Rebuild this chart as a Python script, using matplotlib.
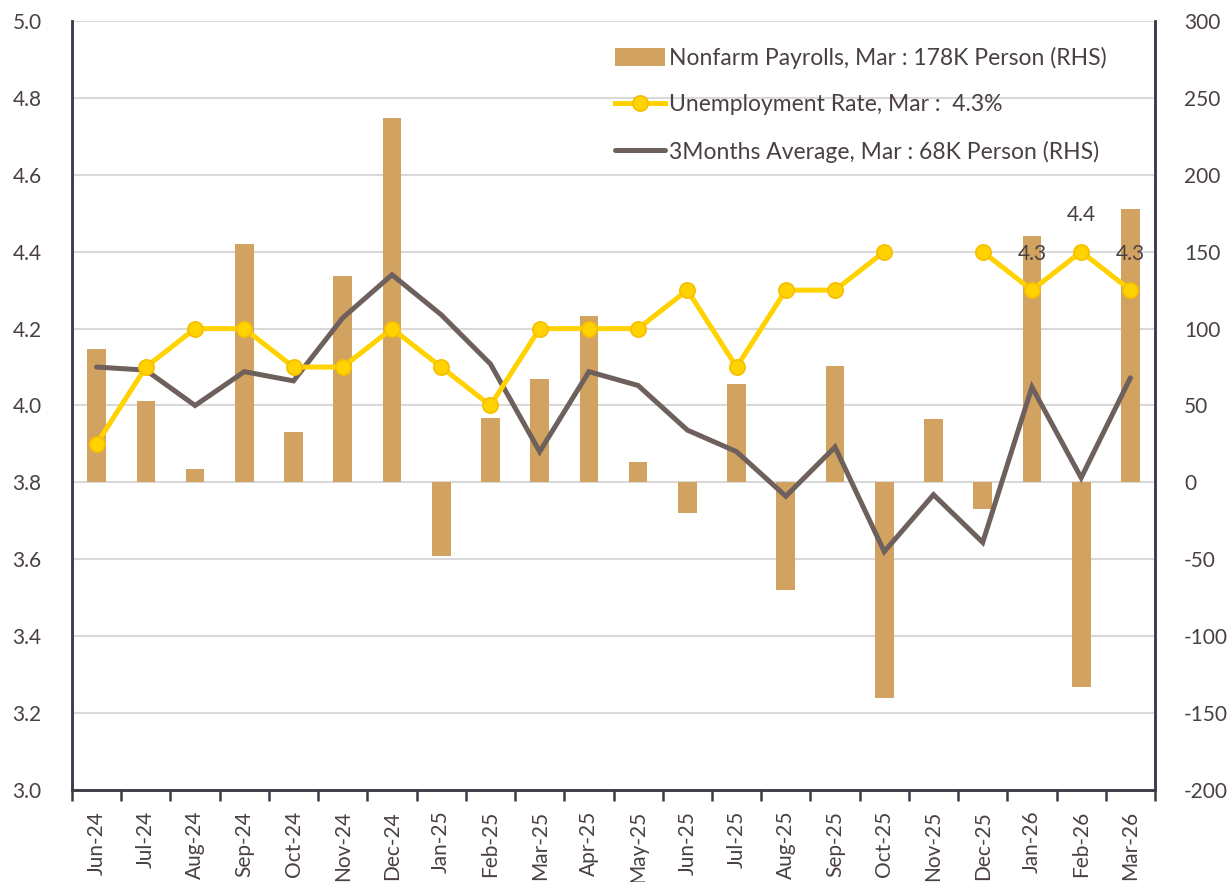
import matplotlib
matplotlib.use('Agg')
import matplotlib.pyplot as plt
import numpy as np

plt.rcParams['font.family'] = ['Lato', 'DejaVu Sans']
plt.rcParams['axes.unicode_minus'] = False

months = ['Jun-24', 'Jul-24', 'Aug-24', 'Sep-24', 'Oct-24', 'Nov-24', 'Dec-24',
          'Jan-25', 'Feb-25', 'Mar-25', 'Apr-25', 'May-25', 'Jun-25', 'Jul-25',
          'Aug-25', 'Sep-25', 'Oct-25', 'Nov-25', 'Dec-25', 'Jan-26', 'Feb-26', 'Mar-26']

payrolls = [87, 53, 9, 155, 33, 134, 237, -48, 42, 67, 108, 13, -20, 64,
            -70, 76, -140, 41, -17, 160, -133, 178]
unemployment = [3.9, 4.1, 4.2, 4.2, 4.1, 4.1, 4.2, 4.1, 4.0, 4.2, 4.2, 4.2, 4.3, 4.1,
                4.3, 4.3, 4.4, np.nan, 4.4, 4.3, 4.4, 4.3]
avg3m = [75, 73, 50, 72, 66, 107, 135, 109, 77, 20, 72, 63, 34, 20,
         -9, 23, -45, -8, -39, 62, 3, 68]

labelled = ['Jan-26', 'Feb-26', 'Mar-26']

text_col = '#4a4040'
spine_col = '#3c3c48'
bar_col = '#D2A260'
yellow = '#FFD200'
grey = '#6E605C'

x = np.arange(len(months))

fig = plt.figure(figsize=(12.29, 8.82), dpi=100)
ax1 = fig.add_axes([0.0586, 0.1043, 0.8812, 0.8719])
ax2 = ax1.twinx()
ax1.set_zorder(ax2.get_zorder() + 1)
ax1.patch.set_visible(False)

bars = ax2.bar(x, payrolls, width=0.38, color=bar_col, zorder=2,
               label='Nonfarm Payrolls, Mar : 178K Person (RHS)')
avg_line, = ax2.plot(x, avg3m, color=grey, lw=3.6, solid_capstyle='round',
                     solid_joinstyle='miter', zorder=3,
                     label='3Months Average, Mar : 68K Person (RHS)')
un_line, = ax1.plot(x, unemployment, color=yellow, lw=3.6, marker='o', ms=11,
                    mfc=yellow, mec='#F7BE00', mew=1.2, zorder=4,
                    label='Unemployment Rate, Mar :  4.3%')

for m in labelled:
    i = months.index(m)
    ax1.annotate(f'{unemployment[i]:.1f}', (x[i], unemployment[i]),
                 xytext=(0, 19), textcoords='offset points', ha='center',
                 va='bottom', fontsize=15, color=text_col)

ax1.set_ylim(3.0, 5.0)
ax1.set_yticks(np.arange(3.0, 5.01, 0.2))
ax1.set_yticklabels([f'{v:.1f}' for v in np.arange(3.0, 5.01, 0.2)])
ax2.set_ylim(-200, 300)
ax2.set_yticks(np.arange(-200, 301, 50))
ax1.set_xlim(-0.5, len(months) - 0.5)

ax2.yaxis.grid(True, color='#d9d9d9', lw=1.5, zorder=0)
ax2.set_axisbelow(True)

ax1.set_xticks(x)
ax1.set_xticklabels(months, rotation=90, fontsize=15, color=text_col)
ax1.set_xticks(np.arange(-0.5, len(months), 1), minor=True)
ax1.tick_params(axis='x', which='major', length=0, pad=15)
ax1.tick_params(axis='x', which='minor', length=8, width=1.8, color=spine_col)
ax1.tick_params(axis='y', length=0, pad=22, labelsize=15, labelcolor=text_col)
ax2.tick_params(axis='y', length=0, pad=21, labelsize=15, labelcolor=text_col)

for ax in (ax1, ax2):
    ax.spines['top'].set_visible(False)
    for s in ('left', 'right', 'bottom'):
        ax.spines[s].set_color(spine_col)
        ax.spines[s].set_linewidth(1.8)

ax1.legend(handles=[bars, un_line, avg_line], loc='upper right',
           bbox_to_anchor=(0.974, 0.993), frameon=False, fontsize=16.5,
           labelcolor=text_col, handlelength=2.2, handleheight=0.85,
           handletextpad=0.15, labelspacing=1.1)

fig.savefig('out.png', dpi=100)
